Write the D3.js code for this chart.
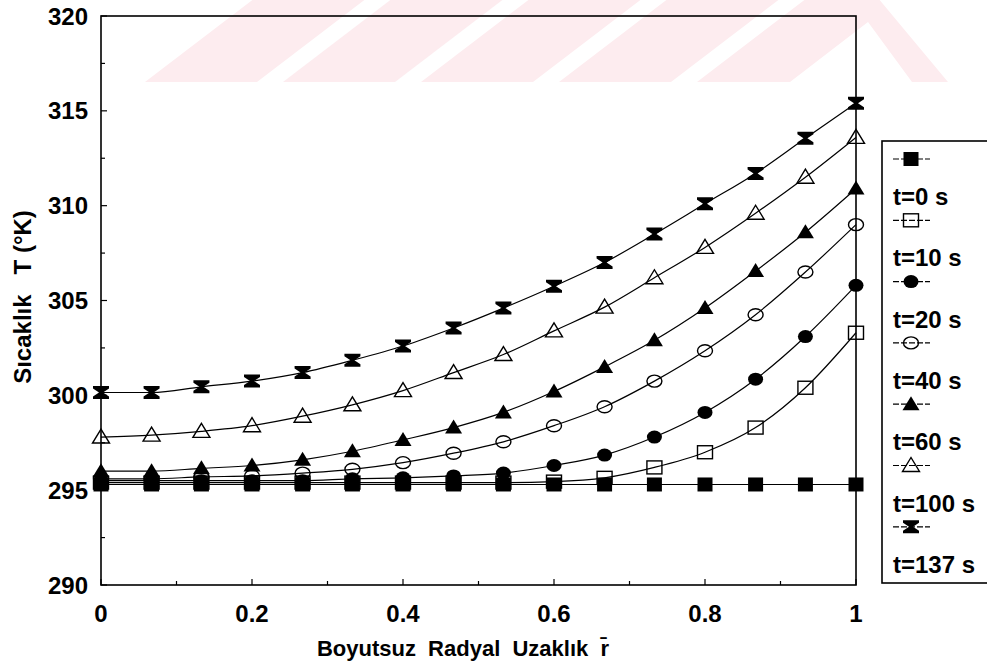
<!DOCTYPE html>
<meta charset="utf-8">
<style>
    body {
        margin: 0;
        background: #fff;
    }
    svg {
        font-family: Arial, "Liberation Sans", sans-serif;
        font-weight: bold;
    }
    .frame {
        fill: none;
        stroke: #000;
        stroke-width: 1.6px;
    }
    .tick-label {
        font-size: 24px;
        fill: #000;
    }
    .axis-title {
        font-size: 22px;
        fill: #000;
        white-space: pre;
    }
    .series path.curve {
        fill: none;
        stroke: #000;
        stroke-width: 1.2px;
    }
    .legend text {
        font-size: 24px;
    }
</style>
<body>
<script src="https://cdn.jsdelivr.net/npm/d3@7"></script>
<script>
    // radial positions (dimensionless r)
    const rBar = [0, 0.067, 0.133, 0.2, 0.267, 0.333, 0.4, 0.467, 0.533, 0.6, 0.667, 0.733, 0.8, 0.867, 0.933, 1];

    // temperature (K) at each r, one list per time
    const t0 = [295.3, 295.3, 295.3, 295.3, 295.3, 295.3, 295.3, 295.3, 295.3, 295.3, 295.3, 295.3, 295.3, 295.3, 295.3, 295.3];
    const t10 = [295.4, 295.4, 295.4, 295.4, 295.4, 295.4, 295.4, 295.4, 295.4, 295.45, 295.65, 296.2, 297.0, 298.3, 300.4, 303.3];
    const t20 = [295.5, 295.5, 295.5, 295.5, 295.5, 295.6, 295.65, 295.75, 295.9, 296.3, 296.85, 297.8, 299.1, 300.85, 303.1, 305.8];
    const t40 = [295.6, 295.6, 295.7, 295.75, 295.9, 296.1, 296.45, 296.95, 297.55, 298.4, 299.4, 300.75, 302.35, 304.25, 306.5, 309.0];
    const t60 = [296.0, 296.0, 296.15, 296.3, 296.6, 297.05, 297.65, 298.3, 299.1, 300.2, 301.5, 302.9, 304.6, 306.55, 308.6, 310.9];
    const t100 = [297.8, 297.9, 298.1, 298.4, 298.9, 299.5, 300.25, 301.2, 302.15, 303.4, 304.65, 306.2, 307.8, 309.6, 311.5, 313.6];
    const t137 = [300.15, 300.15, 300.45, 300.75, 301.2, 301.85, 302.6, 303.55, 304.6, 305.75, 307.0, 308.5, 310.1, 311.7, 313.55, 315.4];

    const seriesNames = ["t=0 s", "t=10 s", "t=20 s", "t=40 s", "t=60 s", "t=100 s", "t=137 s"];
    const seriesValues = [t0, t10, t20, t40, t60, t100, t137];
    const markerKinds = ["squareFilled", "squareOpen", "circleFilled", "circleOpen", "triFilled", "triOpen", "hourglass"];

    const yTicks = [290, 295, 300, 305, 310, 315, 320];
    const xTicks = [0, 0.2, 0.4, 0.6, 0.8, 1];

    const W = 987, H = 667;
    const plot = {left: 101, right: 856, top: 16, bottom: 585};

    const svg = d3.select('body').append('svg')
        .attr('width', W)
        .attr('height', H);

    // faint watermark band at the top of the scan
    const wm = svg.append('g').attr('class', 'watermark').style('fill', '#fdecef');
    [145, 283, 421, 559].forEach(x0 => {
        wm.append('path').attr('d', `M${x0},82 L${x0 + 112},82 L${x0 + 222},-2 L${x0 + 110},-2 Z`);
    });
    wm.append('path').attr('d', 'M697,82 L790,82 L868,22 L912,82 L948,82 L878,-2 L807,-2 Z');

    const x = d3.scaleLinear().domain([0, 1]).range([plot.left, plot.right]);
    const y = d3.scaleLinear().domain([290, 320]).range([plot.bottom, plot.top]);

    // frame
    svg.append('rect')
        .attr('class', 'frame')
        .attr('x', plot.left)
        .attr('y', plot.top)
        .attr('width', plot.right - plot.left)
        .attr('height', plot.bottom - plot.top);

    // ticks: drawn inward, with minor ticks halfway
    const ax = svg.append('g').attr('class', 'axes').style('stroke', '#000').style('stroke-width', 1.2);
    d3.range(290, 320.1, 2.5).forEach(v => {
        const major = v % 5 === 0;
        ax.append('line')
            .attr('x1', plot.left).attr('x2', plot.left + (major ? 6 : 4))
            .attr('y1', y(v)).attr('y2', y(v));
    });
    d3.range(0, 1.01, 0.1).forEach(v => {
        const major = Math.round(v * 10) % 2 === 0;
        ax.append('line')
            .attr('x1', x(v)).attr('x2', x(v))
            .attr('y1', plot.bottom).attr('y2', plot.bottom - (major ? 6 : 4));
    });

    svg.append('g').selectAll('text')
        .data(yTicks)
        .enter().append('text')
        .attr('class', 'tick-label')
        .attr('x', plot.left - 13)
        .attr('y', d => y(d))
        .attr('dy', '0.36em')
        .style('text-anchor', 'end')
        .text(d => d);

    svg.append('g').selectAll('text')
        .data(xTicks)
        .enter().append('text')
        .attr('class', 'tick-label')
        .attr('x', d => x(d))
        .attr('y', 622)
        .style('text-anchor', 'middle')
        .text(d => d3.format('~g')(d));

    svg.append('text')
        .attr('class', 'axis-title')
        .attr('transform', 'translate(31,297) rotate(-90)')
        .style('text-anchor', 'middle')
        .style('font-size', '24px')
        .text('Sıcaklık   T (°K)');

    svg.append('text')
        .attr('class', 'axis-title')
        .attr('x', 463)
        .attr('y', 656)
        .style('text-anchor', 'middle')
        .text('Boyutsuz  Radyal  Uzaklık  r\u0304');

    // marker shapes
    function drawMarker(g, kind) {
        switch (kind) {
            case 'squareFilled':
                g.append('rect').attr('x', -7.5).attr('y', -7).attr('width', 15).attr('height', 14)
                    .style('fill', '#000');
                break;
            case 'squareOpen':
                g.append('rect').attr('x', -7.5).attr('y', -6.5).attr('width', 15).attr('height', 13)
                    .style('fill', 'none').style('stroke', '#000').style('stroke-width', 1.4);
                break;
            case 'circleFilled':
                g.append('ellipse').attr('rx', 7.5).attr('ry', 6.5).style('fill', '#000');
                break;
            case 'circleOpen':
                g.append('ellipse').attr('rx', 7.5).attr('ry', 6)
                    .style('fill', 'none').style('stroke', '#000').style('stroke-width', 1.4);
                break;
            case 'triFilled':
                g.append('path').attr('d', 'M0,-8 L8.5,6 L-8.5,6 Z').style('fill', '#000');
                break;
            case 'triOpen':
                g.append('path').attr('d', 'M0,-8 L8.5,6 L-8.5,6 Z')
                    .style('fill', 'none').style('stroke', '#000').style('stroke-width', 1.4);
                break;
            case 'hourglass':
                g.append('path').attr('d', 'M-8,-6.5 L8,-6.5 L8,-4 L2,0 L8,4 L8,6.5 L-8,6.5 L-8,4 L-2,0 L-8,-4 Z')
                    .style('fill', '#000');
                break;
        }
    }

    const line = d3.line()
        .x(d => x(d[0]))
        .y(d => y(d[1]))
        .curve(d3.curveMonotoneX);

    seriesValues.forEach((vals, i) => {
        const pts = rBar.map((r, k) => [r, vals[k]]);
        const g = svg.append('g').attr('class', 'series');
        g.append('path').attr('class', 'curve').attr('d', line(pts));
        pts.forEach(p => {
            const m = g.append('g').attr('transform', `translate(${x(p[0])},${y(p[1])})`);
            drawMarker(m, markerKinds[i]);
        });
    });

    // legend box, cut by the right edge of the page
    const legend = svg.append('g').attr('class', 'legend');
    legend.append('rect')
        .attr('x', 882)
        .attr('y', 141)
        .attr('width', 130)
        .attr('height', 442)
        .style('fill', '#fff')
        .style('stroke', '#000')
        .style('stroke-width', 1.6);

    seriesNames.forEach((name, i) => {
        const sy = 159 + i * 61.3;
        legend.append('line')
            .attr('x1', 893).attr('x2', 930)
            .attr('y1', sy).attr('y2', sy)
            .style('stroke', '#000')
            .style('stroke-width', 1.2)
            .style('stroke-dasharray', '6,2');
        const m = legend.append('g').attr('transform', `translate(911,${sy})`);
        drawMarker(m, markerKinds[i]);
        legend.append('text')
            .attr('x', 893)
            .attr('y', sy + 46)
            .text(name);
    });
</script>
</body>
</html>
